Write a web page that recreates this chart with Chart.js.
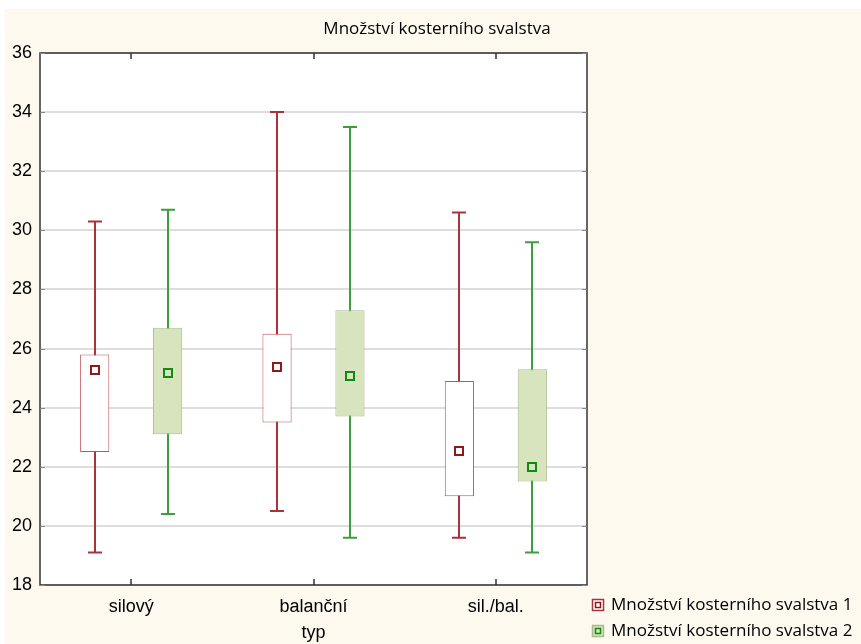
<!doctype html>
<html>
<head>
<meta charset="UTF-8">
<title>Množství kosterního svalstva</title>
<script src="https://cdn.jsdelivr.net/npm/chart.js@4"></script>
<style>
  body { margin: 0; background: #fff; }
  #holder { width: 861px; height: 644px; }
</style>
</head>
<body>
<div id="holder"><canvas id="chart" width="861" height="644"></canvas></div>
<script>
const categories = ['silový', 'balanční', 'sil./bal.'];
const seriesNames = ['Množství kosterního svalstva 1', 'Množství kosterního svalstva 2'];

// series 1
const s1Min = [19.1, 20.5, 19.6];
const s1Q1 = [22.5, 23.5, 21.0];
const s1Mid = [25.28, 25.38, 22.53];
const s1Q3 = [25.8, 26.5, 24.9];
const s1Max = [30.3, 34.0, 30.6];

// series 2
const s2Min = [20.4, 19.6, 19.1];
const s2Q1 = [23.1, 23.7, 21.5];
const s2Mid = [25.17, 25.07, 22.0];
const s2Q3 = [26.7, 27.3, 25.3];
const s2Max = [30.7, 33.5, 29.6];

const yTicks = [18, 20, 22, 24, 26, 28, 30, 32, 34, 36];

const cream = '#fdf9ef';
const styles = [
  { box: '#ffffff', boxLine: '#c0555a', whisker: '#a8343a', mark: '#8b1a1a', markFill: '#ffffff' },
  { box: '#d7e4bd', boxLine: '#a9b98c', whisker: '#3c9e3c', mark: '#128a12', markFill: '#d7e4bd' }
];
const lows = [s1Min, s2Min], highs = [s1Max, s2Max], mids = [s1Mid, s2Mid];

const boxExtras = {
  id: 'boxExtras',
  beforeDraw(chart) {
    const ctx = chart.ctx, a = chart.chartArea;
    ctx.save();
    ctx.fillStyle = '#ffffff';
    ctx.fillRect(0, 0, chart.width, chart.height);
    ctx.fillStyle = cream;
    ctx.fillRect(5, 9, chart.width - 5, chart.height - 9);
    ctx.fillStyle = '#ffffff';
    ctx.fillRect(a.left, a.top, a.right - a.left, a.bottom - a.top);
    ctx.restore();
  },
  beforeDatasetsDraw(chart) {
    const ctx = chart.ctx, y = chart.scales.y;
    ctx.save();
    [0, 1].forEach(d => {
      const meta = chart.getDatasetMeta(d);
      ctx.strokeStyle = styles[d].whisker;
      ctx.lineWidth = 2;
      meta.data.forEach((el, i) => {
        const x = Math.round(el.x);
        const yl = y.getPixelForValue(lows[d][i]);
        const yh = y.getPixelForValue(highs[d][i]);
        ctx.beginPath();
        ctx.moveTo(x, yl); ctx.lineTo(x, yh);
        ctx.moveTo(x - 7, yl); ctx.lineTo(x + 7, yl);
        ctx.moveTo(x - 7, yh); ctx.lineTo(x + 7, yh);
        ctx.stroke();
      });
    });
    ctx.restore();
  },
  afterDatasetsDraw(chart) {
    const ctx = chart.ctx, y = chart.scales.y, xs = chart.scales.x, a = chart.chartArea;
    ctx.save();
    [0, 1].forEach(d => {
      const meta = chart.getDatasetMeta(d);
      meta.data.forEach((el, i) => {
        const x = Math.round(el.x);
        const ym = Math.round(y.getPixelForValue(mids[d][i]));
        ctx.fillStyle = styles[d].markFill;
        ctx.strokeStyle = styles[d].mark;
        ctx.lineWidth = 2;
        ctx.fillRect(x - 4, ym - 4, 8, 8);
        ctx.strokeRect(x - 4, ym - 4, 8, 8);
      });
    });
    // frame and inner ticks
    ctx.strokeStyle = '#333333';
    ctx.lineWidth = 1.5;
    ctx.strokeRect(a.left, a.top, a.right - a.left, a.bottom - a.top);
    ctx.strokeStyle = '#888888';
    ctx.lineWidth = 1;
    ctx.beginPath();
    yTicks.forEach(v => {
      const py = Math.round(y.getPixelForValue(v)) + 0.5;
      ctx.moveTo(a.left, py); ctx.lineTo(a.left + 5, py);
      ctx.moveTo(a.right, py); ctx.lineTo(a.right - 5, py);
    });
    ctx.stroke();
    ctx.strokeStyle = '#333333';
    ctx.lineWidth = 1.5;
    ctx.beginPath();
    categories.forEach((c, i) => {
      const px = Math.round(xs.getPixelForValue(i));
      ctx.moveTo(px, a.top); ctx.lineTo(px, a.top + 6);
      ctx.moveTo(px, a.bottom); ctx.lineTo(px, a.bottom - 6);
    });
    ctx.stroke();
    ctx.restore();
  },
  afterDraw(chart) {
    const ctx = chart.ctx;
    ctx.save();
    ctx.fillStyle = '#000';
    ctx.textBaseline = 'middle';
    ctx.textAlign = 'center';
    ctx.font = '17px "Open Sans"';
    ctx.fillText('Množství kosterního svalstva', 437, 29);
    // legend
    ctx.textAlign = 'left';
    ctx.font = '17px "Open Sans"';
    seriesNames.forEach((name, d) => {
      const cy = 605 + d * 26;
      ctx.fillStyle = styles[d].box;
      ctx.fillRect(592, cy - 6, 12, 12);
      ctx.strokeStyle = d === 0 ? '#a8343a' : styles[d].boxLine;
      ctx.lineWidth = 1.5;
      ctx.strokeRect(592.5, cy - 5.5, 11, 11);
      ctx.strokeStyle = styles[d].mark;
      ctx.lineWidth = 1.5;
      ctx.fillStyle = styles[d].markFill;
      ctx.fillRect(595.5, cy - 2.5, 5, 5);
      ctx.strokeRect(595.5, cy - 2.5, 5, 5);
      ctx.fillStyle = '#000';
      ctx.fillText(name, 611, cy);
    });
    ctx.restore();
  }
};

const boxData = [
  s1Q1.map((q, i) => [q, s1Q3[i]]),
  s2Q1.map((q, i) => [q, s2Q3[i]])
];

new Chart(document.getElementById('chart'), {
  type: 'bar',
  data: {
    labels: categories,
    datasets: [0, 1].map(d => ({
      label: seriesNames[d],
      data: boxData[d],
      backgroundColor: styles[d].box,
      borderColor: styles[d].boxLine,
      borderWidth: 1,
      borderSkipped: false,
      categoryPercentage: 0.8,
      barPercentage: 0.4
    }))
  },
  options: {
    responsive: false,
    animation: false,
    layout: { padding: { top: 53, right: 274, left: 0, bottom: 0 } },
    plugins: {
      legend: { display: false },
      title: { display: false },
      tooltip: { enabled: false }
    },
    scales: {
      x: {
        grid: { display: false, drawTicks: false },
        border: { display: false },
        ticks: { padding: 11, color: '#000', font: { family: 'Liberation Sans', size: 18 } },
        title: { display: true, text: 'typ', color: '#000', padding: { top: 2, bottom: 0 }, font: { family: 'Liberation Sans', size: 18 } },
        afterFit: s => { s.height = 59; }
      },
      y: {
        min: 18,
        max: 36,
        afterBuildTicks: s => { s.ticks = yTicks.map(v => ({ value: v })); },
        grid: { color: '#dddddd', lineWidth: 2, drawTicks: false },
        border: { display: false },
        ticks: { padding: 8, color: '#000', font: { family: 'Liberation Sans', size: 18 } },
        afterFit: s => { s.width = 40; }
      }
    }
  },
  plugins: [boxExtras]
});
</script>
</body>
</html>
